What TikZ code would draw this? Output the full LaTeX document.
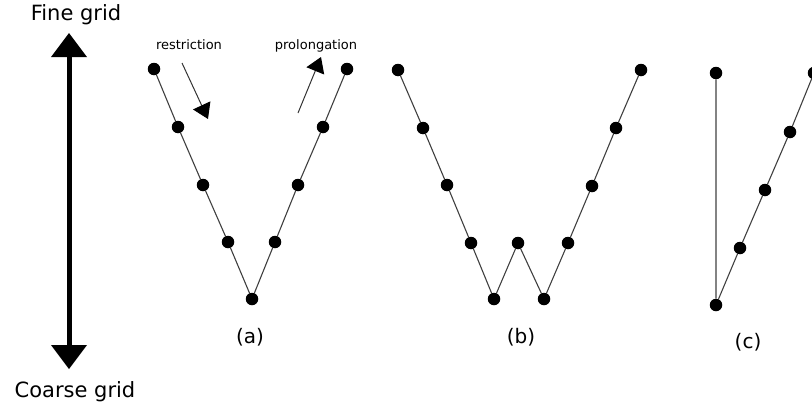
\documentclass[tikz,border=0pt]{standalone}
\usepackage{fontspec}
\setmainfont{DejaVu Sans}
\usetikzlibrary{arrows.meta}
\begin{document}
\begin{tikzpicture}[x=1pt,y=-1pt,
  pt/.style={circle,fill=black,inner sep=0pt,minimum size=12.5pt},
  edge/.style={draw=black!75,line width=1.1pt},
  big/.style={font=\fontsize{21}{24}\selectfont},
  lab/.style={font=\fontsize{20}{24}\selectfont},
  small/.style={font=\fontsize{13}{15}\selectfont},
  thin arrow/.style={draw=black!80,line width=1pt,-{Triangle[length=15pt,width=19pt,fill=black,color=black]}}]
\useasboundingbox (0,0) rectangle (812,407);
\clip (0,0) rectangle (812,407);
% scale arrow
\coordinate (ftip) at (69,33);
\coordinate (ctip) at (69,369);
\fill (51,57) -- (87,57) -- (ftip) -- cycle;
\fill (51,345) -- (87,345) -- (ctip) -- cycle;
\draw[line width=5pt] (69,56) -- (69,346);
\node[big,anchor=base] (fine) at (76,20) {Fine grid};
\node[big,anchor=base] (coarse) at (75,397) {Coarse grid};
% (a)
\foreach \n/\x/\y in {a1/154/69,a2/178/127,a3/203/185,a4/228/242,a5/252/299,a6/275/242,a7/298/185,a8/323/127,a9/347/69}
  \node[pt] (\n) at (\x,\y) {};
\draw[edge] (a1)--(a2)--(a3)--(a4)--(a5)--(a6)--(a7)--(a8)--(a9);
% (b)
\foreach \n/\x/\y in {b1/398/70,b2/423/128,b3/447/185,b4/471/243,b5/494/299,b6/518/243,b7/544/299,b8/568/243,b9/592/186,b10/616/128,b11/641/70}
  \node[pt] (\n) at (\x,\y) {};
\draw[edge] (b1)--(b2)--(b3)--(b4)--(b5)--(b6)--(b7)--(b8)--(b9)--(b10)--(b11);
% (c)
\foreach \n/\x/\y in {c1/716/73,c2/716/305,c3/740/248,c4/765/190,c5/790/132,c6/814/73}
  \node[pt] (\n) at (\x,\y) {};
\draw[edge] (c1)--(c2)--(c3)--(c4)--(c5)--(c6);
% labels
\node[lab] (la) at (250,337) {(a)};
\node[lab] (lb) at (521,337) {(b)};
\node[lab] (lc) at (748,342) {(c)};
% restriction / prolongation
\node[small] (rest) at (189,45) {restriction};
\node[small] (prol) at (316,46) {prolongation};
\coordinate (r1) at (182,63);
\coordinate (r2) at (208,119);
\coordinate (p1) at (298,113);
\coordinate (p2) at (321,57);
\draw[thin arrow] (r1) -- (r2);
\draw[thin arrow] (p1) -- (p2);
\end{tikzpicture}
\end{document}
